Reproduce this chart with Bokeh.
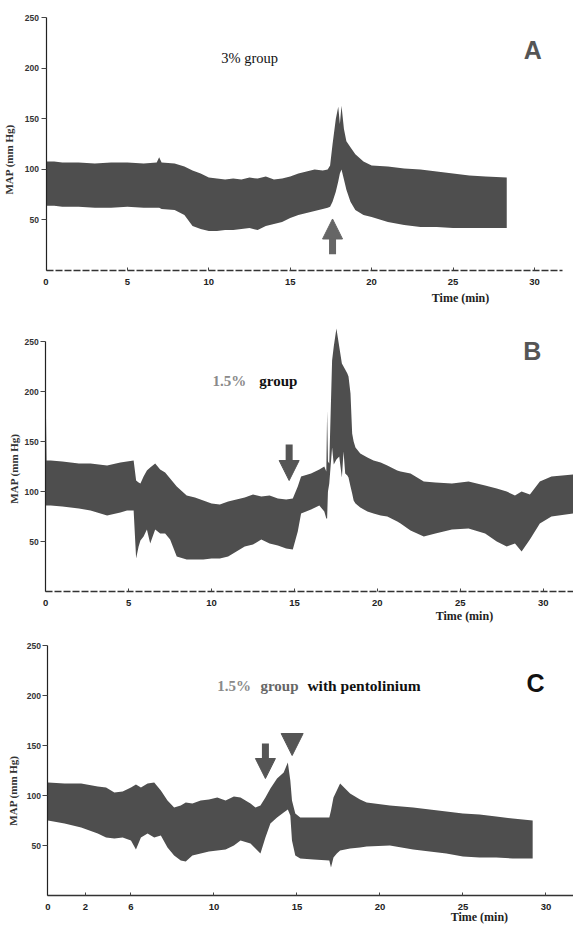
import math
from bokeh.plotting import figure
from bokeh.models import Range1d, LinearAxis, FixedTicker, Arrow, NormalHead
from bokeh.layouts import column
from bokeh.core.properties import value
from bokeh.embed import file_html
from bokeh.resources import INLINE

TRACE = "#4e4e4e"

# ---------------- Panel A : 3% group ----------------
a_time = [0, 0.5, 1, 2, 3, 4, 5, 6, 6.8, 6.95, 7.1, 7.9, 8.5, 9, 9.5, 10, 10.5, 11, 11.5, 12, 12.5,
          13, 13.5, 14, 14.5, 15, 15.5, 16, 16.5, 17, 17.3, 17.45, 17.6, 17.8, 17.95, 18.05, 18.15,
          18.3, 18.45, 18.7, 19.0, 19.5, 20, 21, 22, 23, 24, 25, 26, 27, 28.3]
a_upper = [108, 108, 107, 107, 106, 107, 107, 106, 107, 112, 107, 106, 103, 99, 96, 92, 91, 90, 91, 90, 92,
           91, 93, 90, 91, 93, 96, 98, 100, 99, 100, 104, 125, 150, 162, 145, 163,
           140, 128, 122, 115, 108, 104, 103, 101, 100, 98, 96, 94, 93, 92]
a_lower = [64, 64, 63, 63, 62, 62, 63, 62, 62, 62, 61, 60, 55, 44, 41, 39, 39, 40, 40, 41, 42,
           40, 44, 46, 48, 52, 55, 57, 59, 61, 62, 63, 68, 78, 88, 96, 100,
           90, 80, 68, 60, 55, 53, 48, 45, 43, 43, 42, 42, 42, 42]
a_arrow = dict(x=17.6, tail=16, tip=51)

# ---------------- Panel B : 1.5% group ----------------
b_time = [0, 0.05, 0.3, 1, 2, 2.7, 3.7, 4.5, 4.9, 5.3,
          5.45, 5.6, 5.71, 5.9, 6.1, 6.3, 6.6, 6.9, 7.2, 7.5,
          7.9, 8.5, 9, 9.5, 10, 10.5, 11, 11.5, 12, 12.5,
          13, 13.5, 14, 14.5, 14.9, 15.2, 15.4, 16.0, 16.5, 16.8,
          16.92, 16.97, 17.02, 17.1, 17.27, 17.37, 17.53, 17.7, 17.86, 17.96,
          18.06, 18.19, 18.26, 18.38, 18.48, 18.57, 18.68, 18.97, 19.4, 19.77,
          20.2, 20.6, 21.2, 21.4, 22.0, 22.8, 23.5, 24.5, 25.5, 26.5,
          27.2, 27.8, 28.3, 28.7, 29.2, 29.8, 30.5, 31.8]
b_upper = [193, 131, 131, 130, 128, 128, 126, 129, 130, 131,
           111, 109, 108, 115, 121, 124, 128, 122, 119, 113,
           105, 96, 94, 91, 88, 87, 90, 92, 94, 97,
           95, 96, 93, 92, 93, 105, 115, 118, 122, 125,
           120, 181, 130, 128, 231, 245, 263, 245, 228, 225,
           222, 218, 215, 198, 158, 150, 144, 138, 134, 131,
           129, 126, 121, 120, 118, 110, 109, 108, 110, 106,
           103, 100, 96, 100, 97, 110, 115, 117]
b_lower = [86, 86, 86, 85, 83, 81, 76, 79, 81, 81,
           33, 45, 51, 55, 62, 48, 62, 58, 58, 52,
           35, 32, 32, 32, 33, 33, 35, 40, 45, 47,
           52, 48, 46, 43, 42, 60, 78, 82, 86, 80,
           73, 73, 100, 108, 144, 127, 132, 135, 114, 140,
           118, 116, 114, 105, 98, 91, 88, 84, 80, 78,
           76, 75, 70, 68, 61, 55, 58, 62, 63, 58,
           50, 45, 48, 40, 52, 68, 75, 78]
b_arrow = dict(x=14.68, tail=147, tip=111)

# ---------------- Panel C : 1.5% group with pentolinium ----------------
c_time = [0, 1, 2, 3, 3.5, 4, 4.5, 5, 5.3, 5.6,
          6, 6.4, 6.8, 7.2, 7.6, 8, 8.3, 8.7, 9.2, 9.7,
          10.2, 10.7, 11.2, 11.6, 12.2, 12.5, 12.8, 13.1, 13.4, 13.8,
          14.2, 14.45, 14.6, 14.7, 14.9, 15.2, 16, 16.95, 17.05, 17.2,
          17.4, 17.6, 18.2, 18.8, 19.2, 20.6, 22, 23, 24, 25,
          26, 27, 28, 29.2]
c_upper = [113, 112, 112, 109, 108, 103, 104, 108, 111, 108,
           112, 113, 105, 95, 88, 90, 93, 92, 95, 96,
           98, 95, 99, 98, 92, 88, 90, 98, 107, 117,
           123, 133, 115, 95, 82, 78, 78, 78, 85, 98,
           105, 112, 102, 96, 93, 90, 88, 86, 84, 82,
           81, 79, 77, 75]
c_lower = [75, 72, 68, 62, 58, 57, 58, 55, 46, 58,
           62, 58, 60, 48, 40, 35, 34, 40, 42, 44,
           45, 46, 50, 55, 52, 47, 42, 58, 72, 78,
           83, 86, 80, 55, 40, 37, 36, 35, 28, 38,
           42, 45, 47, 48, 49, 50, 46, 44, 42, 39,
           38, 38, 37, 37]
c_arrow = dict(x=13.1, tail=152, tip=117)
c_marker = dict(x=14.71, top=166, tip=140)

y_ticks = [50, 100, 150, 200, 250]
x_ticks = [0, 5, 10, 15, 20, 25, 30]
c_x_ticks = [0, 2.26, 5, 10, 15, 20, 25, 30]
c_x_overrides = {2.26: "2", 5: "6"}

W = 573


def panel(height, xr, yr, x_bound, x_dash, xticks, overrides=None):
    p = figure(width=W, height=height, x_range=Range1d(*xr), y_range=Range1d(*yr),
               x_axis_type=None, y_axis_type=None, output_backend="svg",
               toolbar_location=None, min_border=0, min_border_left=0, min_border_right=0,
               min_border_top=0, min_border_bottom=0)
    p.outline_line_color = None
    p.background_fill_color = "white"
    p.xgrid.visible = False
    p.ygrid.visible = False

    yax = LinearAxis(fixed_location=0, bounds=(0, 250), ticker=FixedTicker(ticks=y_ticks))
    yax.axis_line_color = "#222222"
    yax.axis_line_width = 1.2
    yax.major_tick_out = 5
    yax.major_tick_in = 0
    yax.minor_tick_line_color = None
    yax.major_tick_line_color = "#444444"
    yax.major_label_standoff = 2
    yax.major_label_text_font = "Liberation Sans"
    yax.major_label_text_font_style = "bold"
    yax.major_label_text_font_size = "8.5px"
    yax.major_label_text_color = "#333333"
    p.add_layout(yax, "left")

    xax = LinearAxis(fixed_location=0, bounds=(0, x_bound), ticker=FixedTicker(ticks=xticks))
    xax.axis_line_color = "#333333"
    xax.axis_line_width = 1.3
    if x_dash:
        xax.axis_line_dash = "7 2"
    xax.major_tick_in = 3
    xax.major_tick_out = 0
    xax.minor_tick_line_color = None
    xax.major_tick_line_color = "#444444"
    xax.major_label_standoff = 8
    xax.major_label_text_font = "Liberation Sans"
    xax.major_label_text_font_style = "bold"
    xax.major_label_text_font_size = "9.5px"
    xax.major_label_text_color = "#222222"
    if overrides:
        xax.major_label_overrides = overrides
    p.add_layout(xax, "below")
    return p


def ylabel(p, x, y):
    p.text(x=[x], y=[y], text=["MAP (mm Hg)"], angle=math.pi / 2, text_align="center",
           text_baseline="middle", text_font=value("Liberation Serif"), text_font_style="bold",
           text_font_size="11px", text_color="#333333")


def xlabel(p, x, y):
    p.text(x=[x], y=[y], text=["Time (min)"], text_align="center", text_baseline="middle",
           text_font=value("Liberation Serif"), text_font_style="bold", text_font_size="12px",
           text_color="#222222")


def letter(p, x, y, s, color):
    p.text(x=[x], y=[y], text=[s], text_align="center", text_baseline="middle",
           text_font=value("Liberation Sans"), text_font_style="bold", text_font_size="25px",
           text_color=color)


def arrow(p, x, y0, y1, size=20, color="#5a5a5a", lw=7, show_line=True):
    p.add_layout(Arrow(end=NormalHead(size=size, fill_color=color, line_color=color),
                       x_start=x, y_start=y0, x_end=x, y_end=y1,
                       line_color=color, line_width=lw, line_alpha=1.0 if show_line else 0.0))


SERIF = value("Liberation Serif")

# ---- A ----
pA = panel(310, (-2.795, 32.40), (-39.6, 267.3), 31.7, True, x_ticks)
pA.varea(x=a_time, y1=a_lower, y2=a_upper, fill_color=TRACE)
arrow(pA, a_arrow["x"], a_arrow["tail"], a_arrow["tip"], size=20, color="#666666")
pA.text(x=[12.62], y=[210], text=["3%  group"], text_align="center", text_baseline="middle",
        text_font=SERIF, text_font_size="14.5px", text_color="#111111")
letter(pA, 29.9, 218, "A", "#555555")
xlabel(pA, 25.46, -27)
ylabel(pA, -2.27, 110)

# ---- B ----
pB = panel(315, (-2.73, 31.83), (-34, 281), 31.83, True, x_ticks)
pB.varea(x=b_time, y1=b_lower, y2=b_upper, fill_color=TRACE)
arrow(pB, b_arrow["x"], b_arrow["tail"], b_arrow["tip"], size=20, color="#555555")
pB.text(x=[10.05], y=[211], text=["1.5%"], text_align="left", text_baseline="middle",
        text_font=SERIF, text_font_style="bold", text_font_size="15px", text_color="#8a8a8a")
pB.text(x=[12.88], y=[211], text=["group"], text_align="left", text_baseline="middle",
        text_font=SERIF, text_font_style="bold", text_font_size="15px", text_color="#111111")
letter(pB, 29.35, 241, "B", "#555555")
xlabel(pB, 25.25, -24)
ylabel(pB, -1.89, 123)

# ---- C ----
pC = panel(301, (-2.86, 31.66), (-31, 270), 31.66, False, c_x_ticks, c_x_overrides)
pC.varea(x=c_time, y1=c_lower, y2=c_upper, fill_color=TRACE)
arrow(pC, c_arrow["x"], c_arrow["tail"], c_arrow["tip"], size=20, color="#555555")
arrow(pC, c_marker["x"], c_marker["top"], c_marker["tip"], size=22, color="#555555", lw=1,
      show_line=False)
pC.text(x=[10.2], y=[210], text=["1.5%"], text_align="left", text_baseline="middle",
        text_font=SERIF, text_font_style="bold", text_font_size="15px", text_color="#8a8a8a")
pC.text(x=[12.8], y=[210], text=["group"], text_align="left", text_baseline="middle",
        text_font=SERIF, text_font_style="bold", text_font_size="15px", text_color="#666666")
pC.text(x=[15.63], y=[210], text=["with pentolinium"], text_align="left", text_baseline="middle",
        text_font=SERIF, text_font_style="bold", text_font_size="15.5px", text_color="#111111")
letter(pC, 29.37, 213, "C", "#111111")
xlabel(pC, 25.99, -21)
ylabel(pC, -2.08, 105)

layout = column(pA, pB, pC, spacing=0)
open("out.html", "w").write(file_html(layout, INLINE))
